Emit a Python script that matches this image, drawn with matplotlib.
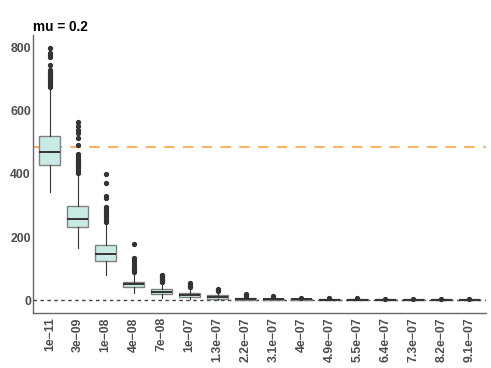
import matplotlib
matplotlib.use("Agg")
import matplotlib.pyplot as plt

# categories (x axis)
labels = ["1e\u221211", "3e\u221209", "1e\u221208", "4e\u221208", "7e\u221208", "1e\u221207",
          "1.3e\u221207", "2.2e\u221207", "3.1e\u221207", "4e\u221207", "4.9e\u221207",
          "5.5e\u221207", "6.4e\u221207", "7.3e\u221207", "8.2e\u221207", "9.1e\u221207"]

# box statistics
whislo = [343, 164, 79, 23, 8, 5, 1, 0, 0, 0, 0, 0, 0, 0, 0, 0]
q1 = [429, 231, 125, 40, 19, 11, 5, 0.5, 0.5, 0.5, 0.3, 0.3, 0.3, 0.2, 0.2, 0.2]
med = [470, 258, 147, 50, 25, 16, 10, 3, 3, 2.5, 1.5, 1.5, 1.5, 1.2, 1.2, 1.2]
q3 = [520, 298, 175, 58, 34, 21, 15, 6, 5, 4, 3, 3, 3, 2.5, 2.5, 2.5]
whishi = [667, 398, 246, 85, 55, 36, 26, 12, 9, 7, 6, 5, 5, 4, 4, 4]
fliers = [
    [800, 785, 778, 772, 746, 730, 724, 718, 712, 706, 700, 694, 688, 682, 676],
    [566, 552, 540, 529, 515, 492, 465, 458, 452, 446, 440, 434, 428, 422, 416, 410, 404],
    [400, 372, 330, 323, 296, 290, 284, 278, 272, 266, 260, 254, 249],
    [177, 135, 128, 120, 112, 105, 100, 95, 90],
    [81, 76, 72, 68, 64, 60, 57],
    [53, 48, 44, 40],
    [35, 32, 29],
    [18, 16, 14],
    [12, 10],
    [8],
    [6],
    [6],
    [5],
    [5],
    [5],
    [5],
]

ref_line = 485

plt.rcParams["font.family"] = ["Liberation Sans", "DejaVu Sans"]

fig = plt.figure(figsize=(4.91, 3.68), dpi=100)
ax = fig.add_axes([33 / 491, 55 / 368, 453 / 491, 278 / 368])

stats = []
for i, lab in enumerate(labels):
    stats.append(dict(label=lab, whislo=whislo[i], q1=q1[i], med=med[i],
                      q3=q3[i], whishi=whishi[i], fliers=fliers[i]))

pos = list(range(1, len(labels) + 1))

# reference lines go behind the boxes
ax.axhline(0, color="#444444", lw=1.0, ls=(0, (2.5, 2.5)), zorder=1)
ax.axhline(ref_line, color="#fdb462", lw=1.5, ls=(0, (5, 4)), zorder=1)

ax.bxp(stats, positions=pos, widths=0.75, patch_artist=True, showcaps=False,
       boxprops=dict(facecolor="#c8ebe5", edgecolor="#808080", linewidth=1.0),
       medianprops=dict(color="#333333", linewidth=1.4),
       whiskerprops=dict(color="#333333", linewidth=0.8),
       flierprops=dict(marker="o", markersize=2.8, markerfacecolor="#333333",
                       markeredgecolor="#333333"),
       zorder=2)

ax.set_xlim(0.4, len(labels) + 0.6)
ax.set_ylim(-41, 841)
ax.set_yticks([0, 200, 400, 600, 800])
ax.set_xticks(pos)
ax.set_xticklabels(labels, rotation=90)

for s in ["top", "right"]:
    ax.spines[s].set_visible(False)
for s in ["left", "bottom"]:
    ax.spines[s].set_color("#666666")
    ax.spines[s].set_linewidth(1.0)

ax.tick_params(length=0, labelsize=8.8, labelcolor="#4d4d4d")
ax.tick_params(axis="x", pad=3)
ax.tick_params(axis="y", pad=1.5)
for t in ax.get_xticklabels() + ax.get_yticklabels():
    t.set_fontweight("bold")

ax.set_title("mu = 0.2", loc="left", fontsize=9.8, fontweight="bold", pad=3)

fig.savefig("out.png", dpi=100)
